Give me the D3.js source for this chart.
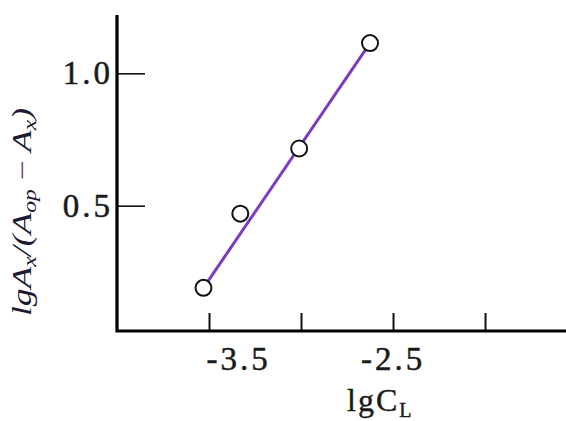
<!DOCTYPE html>
<html>
<head>
<meta charset="utf-8">
<script src="https://cdn.jsdelivr.net/npm/d3@7"></script>
<style>
  body { margin: 0; background: #fff; }
  svg { display: block; }
</style>
</head>
<body>
<script>
var width = 566;
var height = 421;

// dati
var lgC = [-3.53, -3.33, -3.01, -2.625];
var lgRatio = [0.19, 0.47, 0.716, 1.114];

// tacche e etichette
var xTicks = [-3.5, -3.0, -2.5, -2.0];
var xTickLabels = ['-3.5', '-2.5'];
var xTickLabelPos = [-3.35, -2.51];
var yTicks = [0.5, 1.0];
var yTickLabels = ['0.5', '1.0'];

var xRange = d3.scaleLinear().domain([-4, -1.56]).range([117, 566]);
var yRange = d3.scaleLinear().domain([0.027, 1.22]).range([331, 15]);

var svg = d3.select('body').append('svg')
  .attr('width', width)
  .attr('height', height);

// assi
var yAxis = svg.append('g')
  .attr('transform', 'translate(' + xRange(-4) + ',0)')
  .call(d3.axisLeft(yRange).tickValues(yTicks).tickSize(-28).tickFormat(''));
yAxis.select('.domain').remove();
yAxis.selectAll('.tick line').style('stroke', '#111').style('stroke-width', 1.6);

var xAxis = svg.append('g')
  .attr('transform', 'translate(0,' + yRange(0.027) + ')')
  .call(d3.axisBottom(xRange).tickValues(xTicks).tickSize(-18).tickFormat(''));
xAxis.select('.domain').remove();
xAxis.selectAll('.tick line').style('stroke', '#111').style('stroke-width', 2);

svg.append('path')
  .attr('d', 'M' + xRange(-4) + ',' + yRange(1.22) + 'V' + yRange(0.027) + 'H' + width)
  .style('fill', 'none')
  .style('stroke', '#000')
  .style('stroke-width', 3.2);

// etichette delle tacche
svg.selectAll('text.ylab')
  .data(yTicks)
  .enter()
  .append('text')
  .attr('class', 'ylab')
  .attr('x', 113)
  .attr('y', function (d) { return yRange(d) + 11 })
  .attr('text-anchor', 'end')
  .style('font-family', '"Liberation Serif", serif')
  .style('font-size', '33px')
  .style('letter-spacing', '3px')
  .style('fill', '#1a1a1a')
  .style('stroke', '#1a1a1a')
  .style('stroke-width', 0.5)
  .text(function (d, i) { return yTickLabels[i] });

svg.selectAll('text.xlab')
  .data(xTickLabelPos)
  .enter()
  .append('text')
  .attr('class', 'xlab')
  .attr('x', function (d) { return xRange(d) + 2 })
  .attr('y', 370)
  .attr('text-anchor', 'middle')
  .style('font-family', '"Liberation Serif", serif')
  .style('font-size', '33px')
  .style('letter-spacing', '3px')
  .style('fill', '#1a1a1a')
  .style('stroke', '#1a1a1a')
  .style('stroke-width', 0.5)
  .text(function (d, i) { return xTickLabels[i] });

// titolo asse x
var xt = svg.append('text')
  .attr('x', 347)
  .attr('y', 411)
  .style('font-family', '"Liberation Serif", serif')
  .style('font-size', '32px')
  .style('letter-spacing', '2px')
  .style('fill', '#1a1a1a')
  .style('stroke', '#1a1a1a')
  .style('stroke-width', 0.4);
xt.append('tspan').text('lgC');
xt.append('tspan').attr('dy', 6).style('font-size', '20px').text('L');

// titolo asse y
var yt = svg.append('text')
  .attr('transform', 'translate(31,212) rotate(-90)')
  .attr('text-anchor', 'middle')
  .attr('textLength', 208)
  .attr('lengthAdjust', 'spacingAndGlyphs')
  .style('font-family', '"Liberation Serif", serif')
  .style('font-style', 'italic')
  .style('font-size', '27px')
  .style('fill', '#1e1830');
yt.append('tspan').text('lgA');
yt.append('tspan').attr('dy', 5).style('font-size', '18px').text('x');
yt.append('tspan').attr('dy', -5).text('/(A');
yt.append('tspan').attr('dy', 5).style('font-size', '18px').text('op');
yt.append('tspan').attr('dy', -5).style('font-style', 'normal').text(' ');
yt.append('tspan').style('font-style', 'normal').style('fill', '#6a2c91').text('−');
yt.append('tspan').text(' A');
yt.append('tspan').attr('dy', 5).style('font-size', '18px').text('x');
yt.append('tspan').attr('dy', -5).text(')');

// retta
svg.append('line')
  .attr('x1', xRange(lgC[0]))
  .attr('y1', yRange(lgRatio[0]))
  .attr('x2', xRange(lgC[lgC.length - 1]))
  .attr('y2', yRange(lgRatio[lgRatio.length - 1]))
  .style('stroke', '#7a3cc0')
  .style('stroke-width', 3);

// punti
svg.selectAll('circle.pt')
  .data(lgC)
  .enter()
  .append('circle')
  .attr('class', 'pt')
  .attr('cx', function (d) { return xRange(d) })
  .attr('cy', function (d, i) { return yRange(lgRatio[i]) })
  .attr('r', 8)
  .style('fill', '#fff')
  .style('stroke', '#111')
  .style('stroke-width', 2);
</script>
</body>
</html>
